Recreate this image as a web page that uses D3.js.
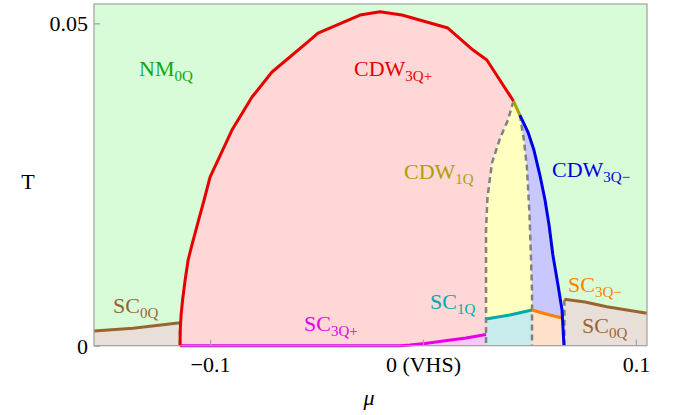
<!DOCTYPE html>
<html><head><meta charset="utf-8">
<script src="https://cdn.jsdelivr.net/npm/d3@7"></script>
<style>
body{margin:0;background:#fff;}
</style></head>
<body><svg id="c" width="680" height="415" font-family="Liberation Serif, Times New Roman, serif"></svg>
<script>
// ---- data (mu, T) ----
const xTicks = [-0.1, 0, 0.1];
const xTickLabels = ["\u22120.1", "0 (VHS)", "0.1"];
const yTicks = [0, 0.05];
const yTickLabels = ["0", "0.05"];
const cdw3qPlus = [[-0.1141,0],[-0.1140,0.00243],[-0.1136,0.00476],[-0.1129,0.00709],[-0.1117,0.01019],[-0.1103,0.01329],[-0.1085,0.01562],[-0.1056,0.01919],[-0.1028,0.0226],[-0.1,0.02616],[-0.0897,0.03345],[-0.0803,0.03857],[-0.0709,0.04245],[-0.0531,0.04741],[-0.0493,0.0485],[-0.0296,0.05129],[-0.0202,0.0518],[-0.0099,0.05129],[0.0117,0.04927],[0.0235,0.04586],[0.0300,0.04431],[0.0425,0.03795]];
const cdw1qTop = [[0.0425,0.03795],[0.0455,0.03578]];
const cdw3qMinus = [[0.0455,0.03578],[0.0493,0.03314],[0.0521,0.03035],[0.0549,0.02647],[0.0573,0.0226],[0.0592,0.01872],[0.0610,0.01407],[0.0634,0.00942],[0.0653,0.00554],[0.0662,0]];
const dashLeft = [[0.0425,0.03795],[0.0399,0.03501],[0.0362,0.03221],[0.0324,0.02834],[0.0303,0.02306],[0.0296,0.01794],[0.0296,0]];
const dashRight = [[0.0455,0.03578],[0.0474,0.0319],[0.0488,0.02771],[0.0500,0.02058],[0.0507,0.01376],[0.0512,0.00864],[0.0512,0]];
const sc1q = [[0.0296,0.00414],[0.0408,0.00476],[0.0512,0.00554]];
const sc3qMinus = [[0.0512,0.00554],[0.0596,0.00476],[0.0660,0.00425]];
const sc0qRight = [[0.0664,0.0072],[0.0761,0.00678],[0.0863,0.00605],[0.1052,0.00502]];
const sc0qLeft = [[-0.1545,0.00228],[-0.1362,0.0027],[-0.1141,0.00357]];
const sc3qPlus = [[-0.1141,0],[-0.0108,0],[-0.0061,0.0001],[0.0009,0.00034],[0.0113,0.0008],[0.0202,0.0012],[0.0296,0.00174]];
const muDomain = [-0.1545, 0.1052];
const tDomain = [0, 0.053];

// ---- layout ----
const FONT = '"Liberation Serif","Times New Roman",serif';
const svg = d3.select("#c");
const L = 94, R = 647, T0 = 4, B = 345.7;
const x = d3.scaleLinear().domain(muDomain).range([L, R]);
const y = d3.scaleLinear().domain(tDomain).range([B, T0]);
const line = d3.line().x(d => x(d[0])).y(d => y(d[1]));
const poly = pts => line(pts) + "Z";
const rev = a => a.slice().reverse();
const xmin = muDomain[0], xmax = muDomain[1];

const g = svg.append("g");
g.append("rect").attr("x", L).attr("y", T0).attr("width", R - L).attr("height", B - T0).attr("fill", "#d8fcd8");

// fills
g.append("path").attr("d", poly([[xmin,0], ...sc0qLeft, [sc0qLeft[2][0],0]])).attr("fill", "#e8e0d8");
g.append("path").attr("d", poly([...cdw3qPlus, ...dashLeft.slice(1)])).attr("fill", "#ffd7d7");
g.append("path").attr("d", poly([...sc3qPlus, [0.0296,0]])).attr("fill", "#f8c8f8");
g.append("path").attr("d", poly([...dashLeft, ...rev(dashRight)])).attr("fill", "#ffffc0");
g.append("path").attr("d", poly([[0.0296,0], ...sc1q, [0.0512,0]])).attr("fill", "#c8ecec");
g.append("path").attr("d", poly([...dashRight, ...rev(cdw3qMinus)])).attr("fill", "#c8c8ff");
g.append("path").attr("d", poly([[0.0512,0], ...sc3qMinus, [0.0662,0]])).attr("fill", "#ffe0c8");
g.append("path").attr("d", poly([[0.0664,0], ...sc0qRight, [xmax,0]])).attr("fill", "#e8e0d8");

// dashed boundaries
const dashed = (pts) => g.append("path").attr("d", line(pts)).attr("fill", "none")
  .attr("stroke", "#808080").attr("stroke-width", 2.5).attr("stroke-dasharray", "6,4");
dashed(dashLeft);
dashed(dashRight);
dashed([[sc0qLeft[2][0],0],[sc0qLeft[2][0],sc0qLeft[2][1]]]);
dashed([[0.0664,0],[0.0664,0.0072]]);

// solid lines
const solid = (pts, c, w) => g.append("path").attr("d", line(pts)).attr("fill", "none")
  .attr("stroke", c).attr("stroke-width", w || 3).attr("stroke-linejoin", "round");
solid(sc3qPlus, "#e600e6");
solid(sc0qLeft, "#9a6432");
solid(sc0qRight, "#9a6432");
solid(sc1q, "#00aaaa");
solid(sc3qMinus, "#ff8000");
solid(cdw3qPlus, "#e60000");
solid(cdw1qTop, "#aaa000");
solid(cdw3qMinus, "#0000e6");

// frame
svg.append("rect").attr("x", L).attr("y", T0).attr("width", R - L).attr("height", B - T0)
  .attr("fill", "none").attr("stroke", "#a0a0a0").attr("stroke-width", 1.2);

// axes
const xa = svg.append("g").attr("transform", `translate(0,${B})`)
  .call(d3.axisBottom(x).tickValues(xTicks).tickSize(-6).tickFormat((d, i) => xTickLabels[i]));
xa.attr("font-family", null).attr("font-size", null);
xa.select(".domain").remove();
xa.selectAll("line").attr("stroke", "#a0a0a0").attr("stroke-width", 1.2);
xa.selectAll("text").attr("y", 26).attr("dy", 0).attr("fill", "#000")
  .style("font-size", "22px").style("font-family", FONT);

const ya = svg.append("g").attr("transform", `translate(${L},0)`)
  .call(d3.axisLeft(y).tickValues(yTicks).tickSize(-6).tickFormat((d, i) => yTickLabels[i]));
ya.attr("font-family", null).attr("font-size", null);
ya.select(".domain").remove();
ya.selectAll("line").attr("stroke", "#a0a0a0").attr("stroke-width", 1.2);
ya.selectAll("text").attr("x", -6).attr("dy", 0).attr("y", 7.5).attr("fill", "#000")
  .style("font-size", "22px").style("font-family", FONT);

svg.append("text").attr("x", 28).attr("y", 189).attr("text-anchor", "middle")
  .style("font-size", "22px").style("font-family", FONT).text("T");
svg.append("text").attr("x", 369).attr("y", 405).attr("text-anchor", "middle")
  .style("font-size", "22px").style("font-family", FONT).style("font-style", "italic").text("\u03bc");

// region labels
const labels = [
  {main: "NM", sub: "0Q", x: 139, y: 76, c: "#10a810"},
  {main: "CDW", sub: "3Q+", x: 354, y: 76, c: "#e60000"},
  {main: "CDW", sub: "1Q", x: 404, y: 179, c: "#aaa000"},
  {main: "CDW", sub: "3Q\u2212", x: 552, y: 177, c: "#0000e6"},
  {main: "SC", sub: "0Q", x: 113, y: 313, c: "#9a6432"},
  {main: "SC", sub: "3Q+", x: 304, y: 331, c: "#e600e6"},
  {main: "SC", sub: "1Q", x: 430, y: 309, c: "#00aaaa"},
  {main: "SC", sub: "3Q\u2212", x: 568, y: 292, c: "#ff8000"},
  {main: "SC", sub: "0Q", x: 582, y: 333, c: "#9a6432"}
];
labels.forEach(l => {
  const t = svg.append("text").attr("x", l.x).attr("y", l.y).attr("fill", l.c)
    .style("font-size", "22px").style("font-family", FONT);
  t.append("tspan").text(l.main);
  t.append("tspan").attr("dy", 5).style("font-size", "15px").text(l.sub);
});
</script></body></html>
